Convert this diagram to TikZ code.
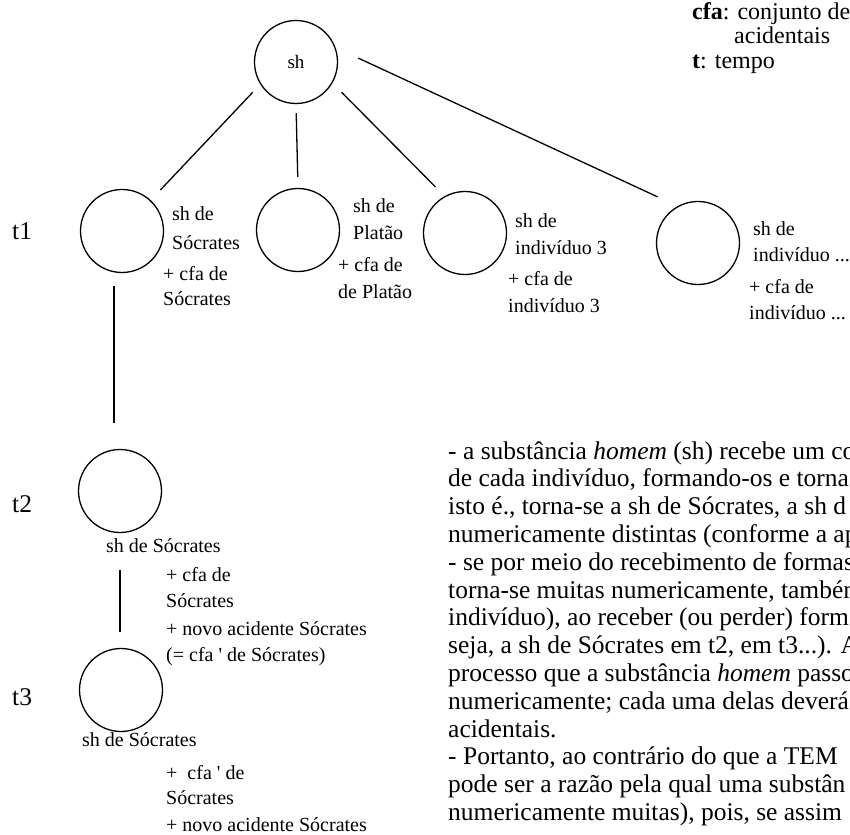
\documentclass[tikz,border=0pt]{standalone}
\usepackage{fontspec}
\setmainfont{Liberation Serif}
\usetikzlibrary{calc}
\begin{document}
\begin{tikzpicture}[x=1pt,y=-1pt,
  ring/.style={draw, circle, line width=1.3pt, minimum size=83pt, inner sep=0pt},
  link/.style={line width=1.3pt},
  lbl/.style={anchor=base west, inner sep=0pt, font=\fontsize{20}{24}\selectfont},
  tlbl/.style={anchor=base west, inner sep=0pt, font=\fontsize{25.5}{28}\selectfont},
  key/.style={anchor=base west, inner sep=0pt, font=\fontsize{24}{28}\selectfont},
  body/.style={anchor=base west, inner sep=0pt, font=\fontsize{25.5}{28}\selectfont}]
\useasboundingbox (0,0) rectangle (850,834);
\clip (0,0) rectangle (850,834);

% substance and its individuals
\node[ring] (sh) at (296,62) {\fontsize{19}{22}\selectfont sh};
\node[ring] (s1) at (122,231) {};
\node[ring] (p1) at (298,230) {};
\node[ring] (i3) at (465,233) {};
\node[ring] (iN) at (698,243) {};
\node[ring] (s2) at (120,491) {};
\node[ring] (s3) at (121,690) {};

% tree edges
\draw[link, shorten <=11pt, shorten >=14pt] (sh.212) -- (s1.47);
\draw[link, shorten <=9pt, shorten >=11pt] (sh.south) -- (p1.north);
\draw[link, shorten <=13pt, shorten >=13pt] (sh.330) -- (i3.119);
\draw[link, shorten <=25pt, shorten >=22pt] (sh.20) -- (iN.119);
\draw[link] ($(s1.south)+(-8,13)$) -- ($(s2.north)+(-6,-26)$);
\draw[link] ($(s2.south)+(0,37)$) -- ($(s3.north)+(-1,-16)$);

% time marks
\node[tlbl] (t1) at (12,239) {t1};
\node[tlbl] (t2) at (12,512) {t2};
\node[tlbl] (t3) at (12,705) {t3};

% legend
\node[key] (k1) at (692,20) {\textbf{cfa}: conjunto de};
\node[key] (k2) at (734,44) {acidentais};
\node[key] (k3) at (692,69) {\textbf{t}: tempo};

% labels at t1
\node[lbl] (s1a) at (172,221) {sh de};
\node[lbl] (s1b) at (172,249) {Sócrates};
\node[lbl] (s1c) at (163,280) {+ cfa de};
\node[lbl] (s1d) at (163,305) {Sócrates};

\node[lbl] (p1a) at (353,213) {sh de};
\node[lbl] (p1b) at (353,240) {Platão};
\node[lbl] (p1c) at (338,271) {+ cfa de};
\node[lbl] (p1d) at (338,298) {de Platão};

\node[lbl] (i3a) at (515,228) {sh de};
\node[lbl] (i3b) at (515,254) {indivíduo 3};
\node[lbl] (i3c) at (508,285) {+ cfa de};
\node[lbl] (i3d) at (508,312) {indivíduo 3};

\node[lbl] (iNa) at (753,235) {sh de};
\node[lbl] (iNb) at (753,261) {indivíduo ...};
\node[lbl] (iNc) at (749,293) {+ cfa de};
\node[lbl] (iNd) at (749,319) {indivíduo ...};

% labels at t2
\node[lbl] (s2a) at (106,552) {sh de Sócrates};
\node[lbl] (s2b) at (166,581) {+ cfa de};
\node[lbl] (s2c) at (166,607) {Sócrates};
\node[lbl] (s2d) at (166,635) {+ novo acidente Sócrates};
\node[lbl] (s2e) at (166,661) {(= cfa \textquotesingle\ de Sócrates)};

% labels at t3
\node[lbl] (s3a) at (82,746) {sh de Sócrates};
\node[lbl] (s3b) at (166,779) {+\ \ cfa \textquotesingle\ de};
\node[lbl] (s3c) at (166,804) {Sócrates};
\node[lbl] (s3d) at (166,831) {+ novo acidente Sócrates};

% explanatory text
\node[body] (b1)  at (448,459.0) {- a substância \textit{homem} (sh) recebe um co};
\node[body] (b2)  at (448,486.8) {de cada indivíduo, formando-os e torna};
\node[body] (b3)  at (448,514.6) {isto é., torna-se a sh de Sócrates, a sh d};
\node[body] (b4)  at (448,542.4) {numericamente distintas (conforme a ap};
\node[body] (b5)  at (448,570.2) {- se por meio do recebimento de formas};
\node[body] (b6)  at (448,598.0) {torna-se muitas numericamente, também};
\node[body] (b7)  at (448,625.8) {indivíduo), ao receber (ou perder) form};
\node[body] (b8)  at (448,653.6) {seja, a sh de Sócrates em t2, em t3...). A};
\node[body] (b9)  at (448,681.4) {processo que a substância \textit{homem} passo};
\node[body] (b10) at (448,709.2) {numericamente; cada uma delas deverá};
\node[body] (b11) at (448,737.0) {acidentais.};
\node[body] (b12) at (448,764.8) {- Portanto, ao contrário do que a TEM};
\node[body] (b13) at (448,792.6) {pode ser a razão pela qual uma substân};
\node[body] (b14) at (448,820.4) {numericamente muitas), pois, se assim};
\end{tikzpicture}
\end{document}
